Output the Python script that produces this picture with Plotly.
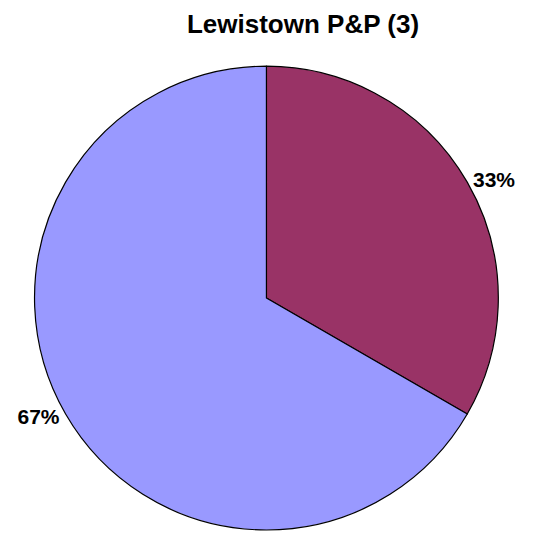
import plotly.graph_objects as go

# Lewistown P&P: counts per category (total 3)
categories = ["A", "B"]
counts = [1, 2]
colors = ["#993366", "#9999FF"]

total = sum(counts)
labels_text = [f"<b>{round(100 * c / total)}%</b>" for c in counts]

fig = go.Figure()
fig.add_trace(go.Pie(
    labels=categories,
    values=counts,
    text=labels_text,
    textinfo="text",
    textposition="outside",
    sort=False,
    direction="clockwise",
    rotation=0,
    marker=dict(colors=colors, line=dict(color="black", width=1.2)),
    textfont=dict(family="Liberation Sans, Arial, sans-serif", size=21, color="black"),
    domain=dict(x=[0.0497, 0.920], y=[0.0225, 0.891]),
    showlegend=False,
    hoverinfo="label+value+percent",
))

fig.update_layout(
    title=dict(
        text="<b>Lewistown P&P (3)</b>",
        x=0.5535, xanchor="center",
        y=0.9695, yanchor="middle",
        font=dict(family="Liberation Sans, Arial, sans-serif", size=26, color="black"),
    ),
    width=533,
    height=534,
    margin=dict(l=0, r=0, t=0, b=0),
    paper_bgcolor="white",
    plot_bgcolor="white",
)

fig.write_html("out.html")
